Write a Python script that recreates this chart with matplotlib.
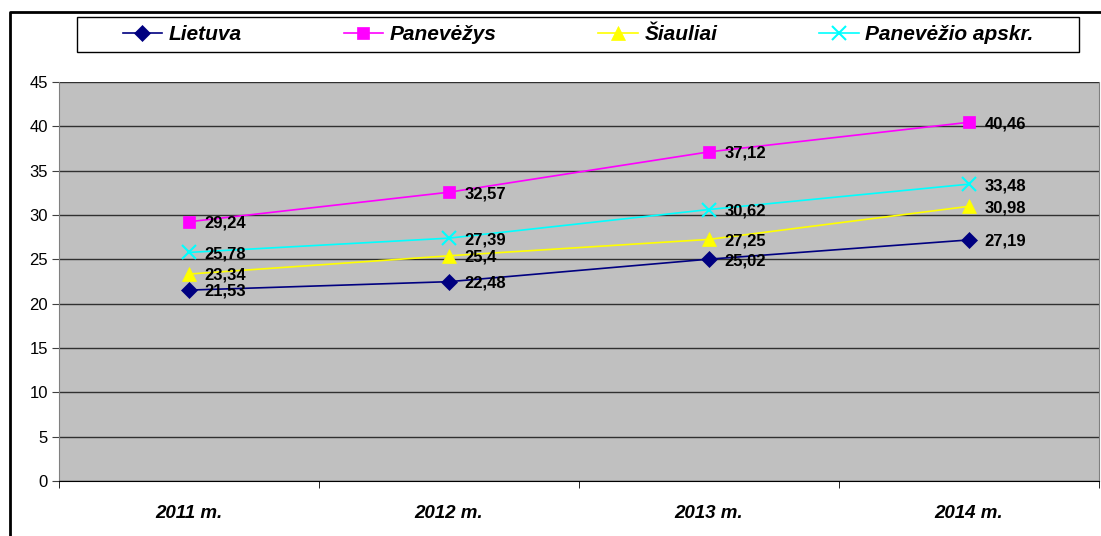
import matplotlib
matplotlib.use("Agg")
import matplotlib.pyplot as plt
from matplotlib.lines import Line2D
from matplotlib.patches import Rectangle

plt.rcParams['font.family'] = ['Liberation Sans', 'DejaVu Sans']

years = ["2011 m.", "2012 m.", "2013 m.", "2014 m."]
lietuva = [21.53, 22.48, 25.02, 27.19]
panevezys = [29.24, 32.57, 37.12, 40.46]
siauliai = [23.34, 25.4, 27.25, 30.98]
apskr = [25.78, 27.39, 30.62, 33.48]

series = [
    ("Lietuva", lietuva, "#000080", "D", 8),
    ("Panevėžys", panevezys, "#FF00FF", "s", 8),
    ("Šiauliai", siauliai, "#FFFF00", "^", 10),
    ("Panevėžio apskr.", apskr, "#00FFFF", "x", 10),
]

W, H = 1101, 536
fig = plt.figure(figsize=(W / 100, H / 100), dpi=100)
ax = fig.add_axes([59 / W, 1 - 481 / H, 1040 / W, 399 / H])
ax.set_facecolor("#C0C0C0")

x = range(len(years))
handles = []
for name, vals, col, mk, ms in series:
    ln, = ax.plot(x, vals, color=col, lw=1.2, marker=mk, ms=ms,
                  markeredgewidth=1.5 if mk == "x" else 0.5,
                  markeredgecolor=col, label=name)
    handles.append(ln)
    for xi, v in zip(x, vals):
        ax.annotate(f"{v:g}".replace(".", ","), (xi, v), xytext=(11, -1),
                    textcoords="offset points", va="center", ha="left",
                    fontsize=12, fontweight="bold", color="black")

ax.set_ylim(0, 45)
ax.set_xlim(-0.5, 3.5)
ax.set_yticks(range(0, 50, 5))
ax.yaxis.grid(True, color="#303030", lw=1)
ax.set_axisbelow(True)
ax.tick_params(axis="y", labelsize=12, length=5, pad=3, color="#404040")
ax.set_xticks(list(x))
ax.set_xticklabels(years, fontsize=13.5, fontweight="bold", fontstyle="italic")
ax.tick_params(axis="x", which="major", length=0, pad=17)
ax.set_xticks([-0.5, 0.5, 1.5, 2.5, 3.5], minor=True)
ax.tick_params(axis="x", which="minor", length=5, color="black")
ax.spines["top"].set_visible(False)
ax.spines["right"].set_color("#808080")
ax.spines["left"].set_color("#808080")
ax.spines["bottom"].set_color("black")

# legend box
fig.add_artist(Rectangle((77 / W, 1 - 52 / H), 1002 / W, 35 / H,
                         transform=fig.transFigure, fill=True, fc="white",
                         ec="black", lw=1))
fig.legend(handles=handles, loc="center", ncol=4,
           bbox_to_anchor=(578 / W, 1 - 34.5 / H),
           prop={"size": 15, "weight": "bold", "style": "italic"},
           frameon=False, handlelength=1.9,
           handletextpad=0.3, columnspacing=4.9,
           borderpad=0.25, borderaxespad=0)

# outer chart border (left and top)
fig.add_artist(Line2D([10 / W, 10 / W, 1.0], [0, 1 - 12 / H, 1 - 12 / H],
                      transform=fig.transFigure, color="black", lw=2))

fig.savefig("out.png", dpi=100)
